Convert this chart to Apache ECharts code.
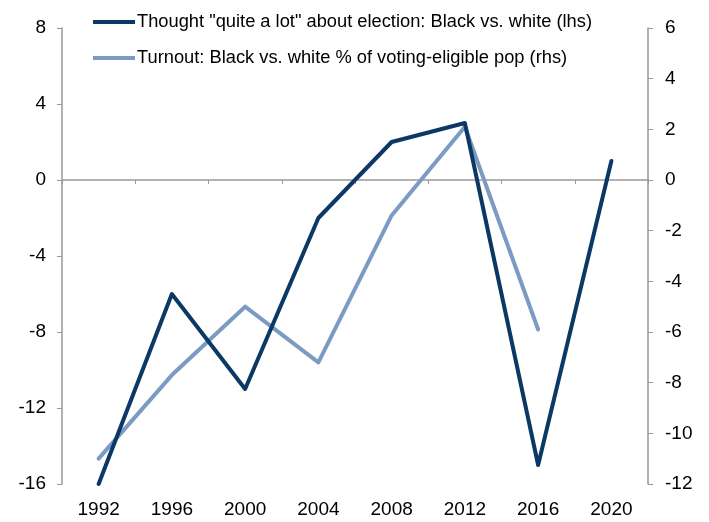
<!DOCTYPE html>
<html>
<head>
<meta charset="utf-8">
<script src="https://cdn.jsdelivr.net/npm/echarts@6/dist/echarts.min.js"></script>
<style>
  html, body { margin: 0; padding: 0; background: #fff; }
  #chart { width: 709px; height: 522px; }
</style>
</head>
<body>
<div id="chart"></div>
<script>
// Election years on the category axis
const years = ['1992', '1996', '2000', '2004', '2008', '2012', '2016', '2020'];

// Share who thought "quite a lot" about the election, Black minus white (left axis)
const thoughtGap = [-16, -6, -11, -2, 2, 3, -15, 1];

// Turnout gap, Black minus white, % of voting-eligible population (right axis)
const turnoutGap = [-11.0, -7.7, -5.0, -7.2, -1.4, 2.1, -5.9, null];

const seriesNames = [
  'Thought "quite a lot" about election: Black vs. white (lhs)',
  'Turnout: Black vs. white % of voting-eligible pop (rhs)'
];

const darkBlue = '#0b3864';
const lightBlue = '#7c9bc2';
const axisGray = '#999999';
const fontFamily = 'Liberation Sans, Arial, sans-serif';

const chart = echarts.init(document.getElementById('chart'));

chart.setOption({
  animation: false,
  backgroundColor: '#ffffff',
  grid: { left: 62, right: 61, top: 28, bottom: 38, containLabel: false },
  legend: {
    orient: 'vertical',
    left: 93,
    top: 12,
    padding: 0,
    itemWidth: 42,
    itemHeight: 4,
    itemGap: 16,
    icon: 'rect',
    textStyle: {
      fontFamily: fontFamily, fontSize: 18.3, color: '#000',
      lineHeight: 20, height: 20, padding: [0, 0, 0, -3]
    },
    data: seriesNames
  },
  xAxis: [
    {
      // axis line drawn through zero with ticks between categories
      type: 'category',
      data: years,
      boundaryGap: true,
      axisLine: { onZero: true, onZeroAxisIndex: 0, lineStyle: { color: axisGray, width: 1.5 } },
      axisTick: { show: true, length: 4, lineStyle: { color: axisGray, width: 1 } },
      axisLabel: { show: false },
      splitLine: { show: false }
    },
    {
      // year labels along the bottom
      type: 'category',
      data: years,
      position: 'bottom',
      boundaryGap: true,
      axisLine: { show: false, onZero: false },
      axisTick: { show: false },
      axisLabel: { fontFamily: fontFamily, fontSize: 19, color: '#000', margin: 16 },
      splitLine: { show: false }
    }
  ],
  yAxis: [
    {
      type: 'value',
      min: -16,
      max: 8,
      interval: 4,
      position: 'left',
      axisLine: { show: true, onZero: false, lineStyle: { color: axisGray, width: 1.5 } },
      axisTick: { show: true, length: 5, lineStyle: { color: axisGray } },
      axisLabel: { fontFamily: fontFamily, fontSize: 19, color: '#000', margin: 16 },
      splitLine: { show: false }
    },
    {
      type: 'value',
      min: -12,
      max: 6,
      interval: 2,
      position: 'right',
      axisLine: { show: true, onZero: false, lineStyle: { color: axisGray, width: 1.5 } },
      axisTick: { show: true, length: 5, lineStyle: { color: axisGray } },
      axisLabel: { fontFamily: fontFamily, fontSize: 19, color: '#000', margin: 17 },
      splitLine: { show: false }
    }
  ],
  series: [
    {
      name: seriesNames[0],
      type: 'line',
      xAxisIndex: 0,
      yAxisIndex: 0,
      data: thoughtGap,
      symbol: 'none',
      color: darkBlue,
      lineStyle: { color: darkBlue, width: 4, cap: 'round', join: 'round' },
      z: 3
    },
    {
      name: seriesNames[1],
      type: 'line',
      xAxisIndex: 0,
      yAxisIndex: 1,
      data: turnoutGap,
      symbol: 'none',
      color: lightBlue,
      lineStyle: { color: lightBlue, width: 4, cap: 'round', join: 'round' },
      z: 2
    }
  ]
});
</script>
</body>
</html>
